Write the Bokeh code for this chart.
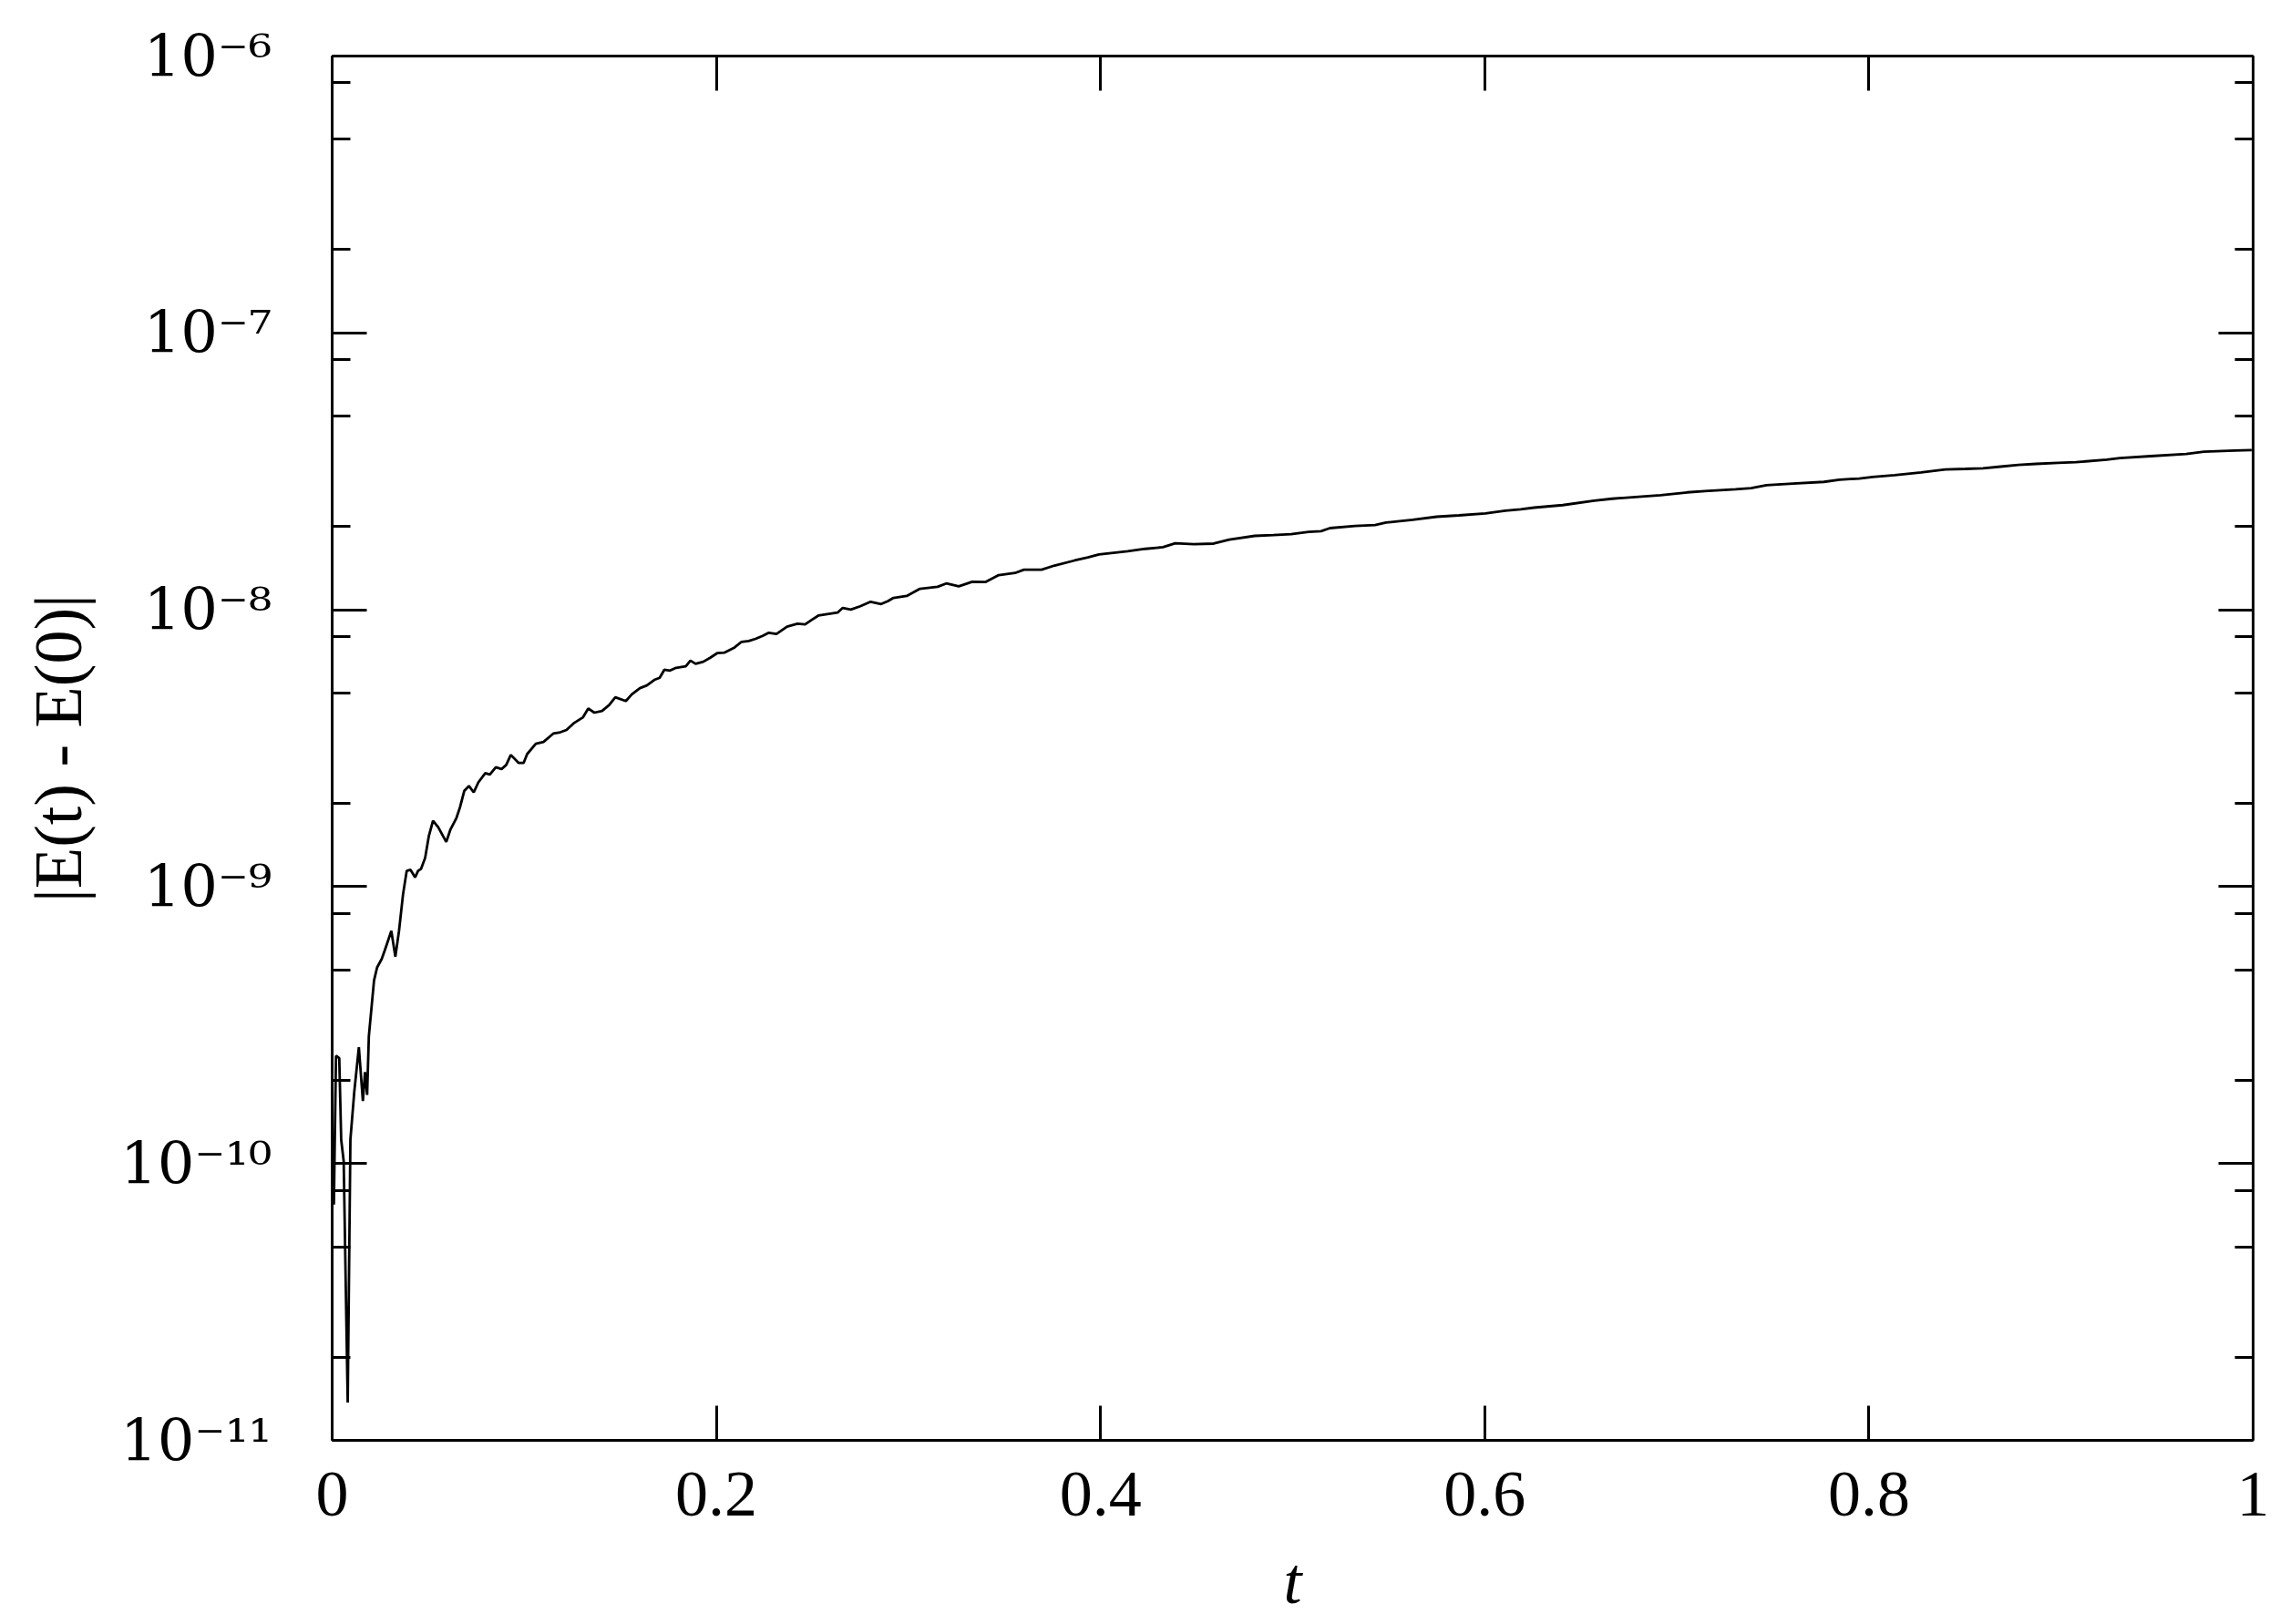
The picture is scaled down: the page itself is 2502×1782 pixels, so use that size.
from bokeh.plotting import figure
from bokeh.models import FixedTicker, LinearAxis, LogAxis, Range1d
from bokeh.embed import file_html
from bokeh.resources import INLINE

# ---- data ----
t = [0.0009, 0.0020, 0.0037, 0.0047, 0.0060, 0.0081, 0.0095, 0.0115, 0.0139, 0.0160,
     0.0171, 0.0182, 0.0191, 0.0218, 0.0234, 0.0258, 0.0274, 0.0308, 0.0329, 0.0348,
     0.0369, 0.0388, 0.0408, 0.0432, 0.0447, 0.0463, 0.0484, 0.0503, 0.0525, 0.0552,
     0.0594, 0.0616, 0.0647, 0.0665, 0.0688, 0.0712, 0.0737, 0.0761, 0.0797, 0.0821,
     0.0852, 0.0882, 0.0906, 0.0930, 0.0970, 0.0997, 0.1015, 0.1060, 0.1100, 0.1151,
     0.1187, 0.1220, 0.1257, 0.1306, 0.1333, 0.1365, 0.1405, 0.1442, 0.1474, 0.1529,
     0.1560, 0.1602, 0.1638, 0.1677, 0.1705, 0.1729, 0.1759, 0.1790, 0.1841, 0.1865,
     0.1892, 0.1932, 0.1968, 0.2004, 0.2041, 0.2095, 0.2131, 0.2168, 0.2204, 0.2241,
     0.2273, 0.2313, 0.2368, 0.2422, 0.2462, 0.2495, 0.2531, 0.2585, 0.2631, 0.2658,
     0.2700, 0.2749, 0.2803, 0.2858, 0.2894, 0.2922, 0.2991, 0.3060, 0.3152, 0.3197,
     0.3262, 0.3332, 0.3400, 0.3470, 0.3555, 0.3601, 0.3693, 0.3761, 0.3865, 0.3934,
     0.3992, 0.4141, 0.4233, 0.4325, 0.4389, 0.4486, 0.4589, 0.4670, 0.4803, 0.4900,
     0.4992, 0.5083, 0.5148, 0.5194, 0.5325, 0.5429, 0.5486, 0.5624, 0.5750, 0.5866,
     0.6003, 0.6107, 0.6187, 0.6257, 0.6406, 0.6570, 0.6663, 0.6801, 0.6916, 0.7054,
     0.7146, 0.7306, 0.7387, 0.7467, 0.7605, 0.7766, 0.7847, 0.7950, 0.8019, 0.8134,
     0.8272, 0.8398, 0.8502, 0.8594, 0.8686, 0.8778, 0.8870, 0.8985, 0.9077, 0.9238,
     0.9307, 0.9468, 0.9652, 0.9744, 0.9905, 0.9992]

energy_error = [7.11e-11, 2.45e-10, 2.40e-10, 1.22e-10, 1.02e-10, 1.37e-11, 1.22e-10, 1.81e-10, 2.63e-10, 1.68e-10,
                2.14e-10, 1.77e-10, 2.88e-10, 4.58e-10, 5.11e-10, 5.48e-10, 5.89e-10, 6.92e-10, 5.58e-10, 6.92e-10,
                9.38e-10, 1.14e-9, 1.15e-9, 1.08e-9, 1.14e-9, 1.16e-9, 1.27e-9, 1.52e-9, 1.73e-9, 1.64e-9,
                1.45e-9, 1.61e-9, 1.77e-9, 1.93e-9, 2.22e-9, 2.31e-9, 2.19e-9, 2.38e-9, 2.57e-9, 2.54e-9,
                2.70e-9, 2.66e-9, 2.75e-9, 2.99e-9, 2.80e-9, 2.80e-9, 3.01e-9, 3.28e-9, 3.33e-9, 3.57e-9,
                3.61e-9, 3.68e-9, 3.89e-9, 4.09e-9, 4.40e-9, 4.25e-9, 4.31e-9, 4.53e-9, 4.83e-9, 4.68e-9,
                4.95e-9, 5.21e-9, 5.33e-9, 5.58e-9, 5.68e-9, 6.07e-9, 6.03e-9, 6.17e-9, 6.25e-9, 6.55e-9,
                6.38e-9, 6.49e-9, 6.71e-9, 6.97e-9, 7.00e-9, 7.31e-9, 7.66e-9, 7.71e-9, 7.85e-9, 8.05e-9,
                8.26e-9, 8.18e-9, 8.69e-9, 8.91e-9, 8.85e-9, 9.18e-9, 9.53e-9, 9.66e-9, 9.77e-9, 1.016e-8,
                1.002e-8, 1.030e-8, 1.069e-8, 1.049e-8, 1.076e-8, 1.104e-8, 1.122e-8, 1.191e-8, 1.211e-8, 1.245e-8,
                1.216e-8, 1.262e-8, 1.259e-8, 1.334e-8, 1.358e-8, 1.396e-8, 1.396e-8, 1.445e-8, 1.507e-8, 1.545e-8,
                1.585e-8, 1.626e-8, 1.660e-8, 1.683e-8, 1.738e-8, 1.726e-8, 1.734e-8, 1.791e-8, 1.849e-8, 1.862e-8,
                1.875e-8, 1.910e-8, 1.923e-8, 1.972e-8, 2.009e-8, 2.023e-8, 2.065e-8, 2.113e-8, 2.168e-8, 2.193e-8,
                2.228e-8, 2.280e-8, 2.307e-8, 2.339e-8, 2.388e-8, 2.477e-8, 2.518e-8, 2.559e-8, 2.594e-8, 2.655e-8,
                2.685e-8, 2.723e-8, 2.748e-8, 2.818e-8, 2.858e-8, 2.897e-8, 2.951e-8, 2.979e-8, 3.020e-8, 3.062e-8,
                3.133e-8, 3.214e-8, 3.228e-8, 3.243e-8, 3.289e-8, 3.334e-8, 3.365e-8, 3.396e-8, 3.412e-8, 3.483e-8,
                3.532e-8, 3.589e-8, 3.656e-8, 3.724e-8, 3.758e-8, 3.776e-8]

x_ticks = [0, 0.2, 0.4, 0.6, 0.8, 1]
x_tick_labels = ["0", "0.2", "0.4", "0.6", "0.8", "1"]
y_ticks = [1e-11, 1e-10, 1e-9, 1e-8, 1e-7, 1e-6]
y_tick_labels = ["10\u207b\u00b9\u00b9", "10\u207b\u00b9\u2070", "10\u207b\u2079",
                 "10\u207b\u2078", "10\u207b\u2077", "10\u207b\u2076"]
y_minor_ticks = [2e-11, 5e-11, 8e-11, 2e-10, 5e-10, 8e-10, 2e-9, 5e-9, 8e-9,
                 2e-8, 5e-8, 8e-8, 2e-7, 5e-7, 8e-7]
x_label = "t"
y_label = "|E(t) - E(0)|"

FONT = "Liberation Serif"
FS = "72px"
YTICK_FONT = "DejaVu Serif"
YTICK_FS = "64px"

p = figure(x_range=Range1d(0, 1), y_range=Range1d(1e-11, 1e-6), y_axis_type="log",
           frame_width=2108, frame_height=1519,
           min_border_left=364, min_border_right=29, min_border_top=61, min_border_bottom=201,
           output_backend="svg", toolbar_location=None,
           background_fill_color="white", border_fill_color="white")
p.outline_line_color = None
p.xgrid.visible = False
p.ygrid.visible = False

p.line(t, energy_error, line_color="black", line_width=2.8)


def style_axis(ax):
    ax.axis_line_color = "black"
    ax.axis_line_width = 3
    ax.major_tick_line_color = "black"
    ax.major_tick_line_width = 3
    ax.minor_tick_line_color = "black"
    ax.minor_tick_line_width = 3
    ax.major_tick_in = 38
    ax.major_tick_out = 0
    ax.minor_tick_in = 20
    ax.minor_tick_out = 0
    ax.major_label_text_font = FONT
    ax.major_label_text_font_size = FS
    ax.major_label_text_color = "black"
    ax.axis_label_text_font = FONT
    ax.axis_label_text_font_size = FS
    ax.axis_label_text_color = "black"


# bottom x axis
xa = p.xaxis[0]
xa.ticker = FixedTicker(ticks=x_ticks)
xa.major_label_overrides = dict(zip(x_ticks, x_tick_labels))
style_axis(xa)
xa.minor_tick_line_color = None
xa.major_label_standoff = 35
xa.axis_label = x_label
xa.axis_label_text_font_style = "italic"
xa.axis_label_standoff = 29

# left y axis
ya = p.yaxis[0]
ya.ticker = FixedTicker(ticks=y_ticks, minor_ticks=y_minor_ticks)
ya.major_label_overrides = dict(zip(y_ticks, y_tick_labels))
style_axis(ya)
ya.major_label_text_font = YTICK_FONT
ya.major_label_text_font_size = YTICK_FS
ya.major_label_standoff = 66
ya.axis_label = y_label
ya.axis_label_text_font_style = "normal"
ya.axis_label_text_font_size = "74px"
ya.axis_label_standoff = 24

# mirrored axes (ticks only)
top = LinearAxis(ticker=FixedTicker(ticks=x_ticks),
                 major_label_overrides={v: "" for v in x_ticks})
style_axis(top)
top.minor_tick_line_color = None
top.major_label_text_font_size = "1px"
top.major_label_standoff = 0
p.add_layout(top, "above")

right = LogAxis(ticker=FixedTicker(ticks=y_ticks, minor_ticks=y_minor_ticks),
                major_label_overrides={v: "" for v in y_ticks})
style_axis(right)
right.major_label_text_font_size = "1px"
right.major_label_standoff = 0
p.add_layout(right, "right")

open("out.html", "w").write(file_html(p, INLINE))
